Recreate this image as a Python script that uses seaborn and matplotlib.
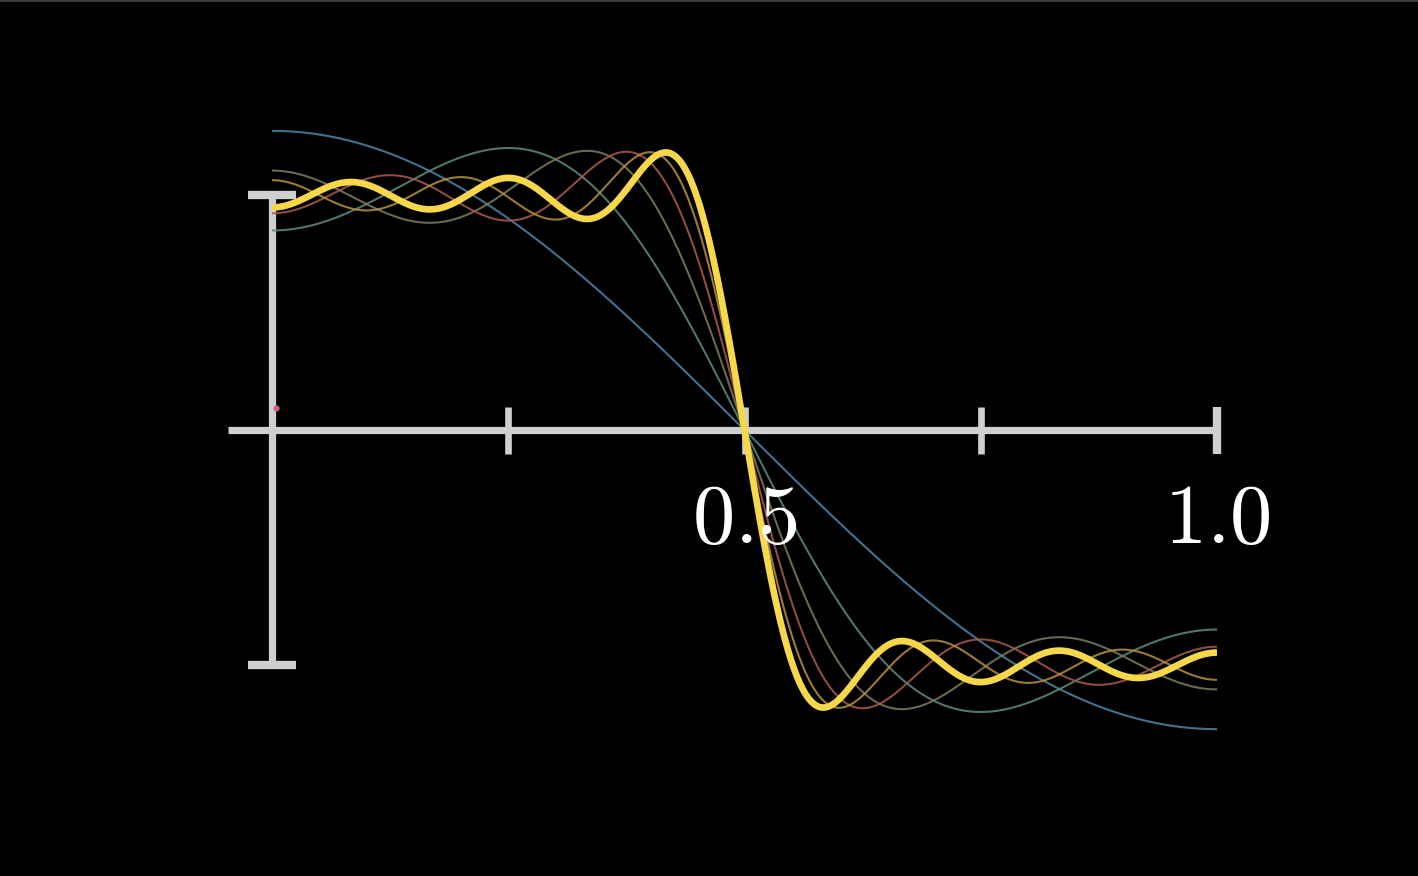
import numpy as np
import pandas as pd
import matplotlib
matplotlib.use("Agg")
import matplotlib.pyplot as plt
import seaborn as sns

# cosine harmonics of the square wave and their amplitudes
harmonics = [1, 3, 5, 7, 9, 11]
amplitudes = [1.273, -0.424, 0.255, -0.182, 0.141, -0.116]
curve_names = ["1 term", "2 terms", "3 terms", "4 terms", "5 terms", "6 terms"]
curve_colors = ["#4f86a6", "#5f8a7c", "#7e7c5c", "#a85a50", "#b8913e", "#f7d84a"]
curve_widths = [1.5, 1.5, 1.5, 1.5, 1.5, 4.8]

tick_positions = [0.25, 0.5, 0.75, 1.0]
tick_labels = {0.5: "0.5", 1.0: "1.0"}

sns.set_theme(style="dark")
plt.rcParams["mathtext.fontset"] = "cm"

x = np.linspace(0, 1, 800)
rows = []
partial = np.zeros_like(x)
for name, k, a in zip(curve_names, harmonics, amplitudes):
    partial = partial + a * np.cos(k * np.pi * x)
    rows.append(pd.DataFrame({"x": x, "y": partial.copy(), "curve": name}))
df = pd.concat(rows, ignore_index=True)

fig = plt.figure(figsize=(14.18, 8.76), dpi=100, facecolor="black")
ax = fig.add_axes([0, 0, 1, 1])
ax.set_facecolor("black")

axis_color = "#cfcfcf"
# x axis and ticks
ax.plot([-0.047, 1.0], [0, 0], color=axis_color, lw=5.2, solid_capstyle="butt", zorder=1)
for t in tick_positions:
    ax.plot([t, t], [-0.1, 0.1], color=axis_color, lw=6 if t == 1.0 else 4.8,
            solid_capstyle="butt", zorder=1)
    if t in tick_labels:
        ax.text(t, -0.38, f"${tick_labels[t]}$", color="white", fontsize=61,
                ha="center", va="center", zorder=3)
# y axis with end caps
ax.plot([0, 0], [-1, 1], color=axis_color, lw=5.2, solid_capstyle="butt", zorder=1)
for yv in [-1, 1]:
    ax.plot([-0.025, 0.025], [yv, yv], color=axis_color, lw=6, solid_capstyle="butt", zorder=1)

sns.lineplot(data=df, x="x", y="y", hue="curve", size="curve",
             palette=dict(zip(curve_names, curve_colors)),
             sizes=dict(zip(curve_names, curve_widths)),
             legend=False, ax=ax, zorder=2)
for line in ax.get_lines()[-len(curve_names):]:
    line.set_solid_capstyle("butt")
    if line.get_linewidth() < 3:
        line.set_alpha(0.85)

ax.scatter([0.004], [0.095], s=12, color="#d0607e", zorder=3)

ax.set_xlim(-272 / 945, (1418 - 272) / 945)
ax.set_ylim(-(876 - 430) / 235, 430 / 235)
ax.set_axis_off()

fig.add_artist(plt.Line2D([0, 1], [0.9985, 0.9985], transform=fig.transFigure,
                          color="#3a3a3a", lw=1.5))

fig.savefig("out.png", dpi=100, facecolor="black")
